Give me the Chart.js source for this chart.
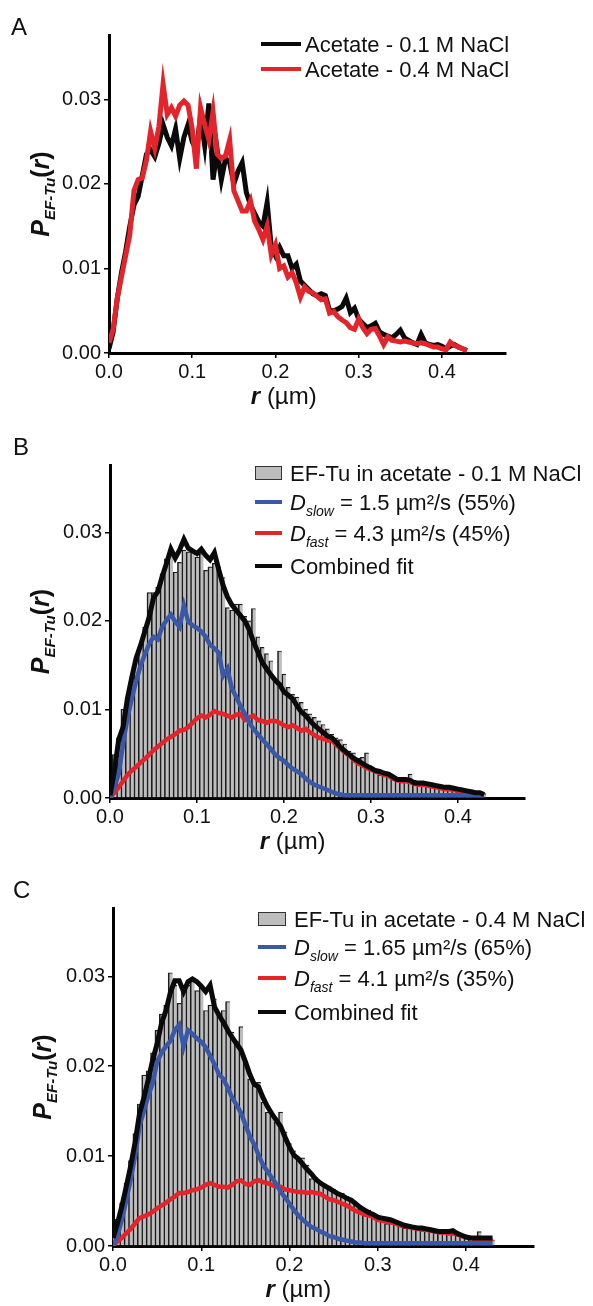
<!DOCTYPE html>
<html><head><meta charset="utf-8">
<script src="https://cdn.jsdelivr.net/npm/chart.js@4.4.0/dist/chart.umd.min.js"></script>
<style>
html,body{margin:0;padding:0;background:#fff;}
#wrap{position:relative;width:593px;height:1306px;background:#fff;}
canvas{position:absolute;left:0;}
</style></head><body>
<div id="wrap">
<canvas id="cA" width="593" height="420" style="top:0px"></canvas>
<canvas id="cB" width="593" height="440" style="top:420px"></canvas>
<canvas id="cC" width="593" height="446" style="top:860px"></canvas>
</div>
<script>
// ---------- data (r grid: bins of 0.005 µm from 0 to 0.43) ----------
const binStep = 0.005;
const xTickValues = [0, 0.1, 0.2, 0.3, 0.4];
const xTickLabels = ['0.0', '0.1', '0.2', '0.3', '0.4'];
const yTickValues = [0, 0.01, 0.02, 0.03];
const yTickLabels = ['0.00', '0.01', '0.02', '0.03'];

// Panel A
const aSaltLow = [0.0005,0.0025,0.0065,0.0095,0.0120,0.0150,0.0175,0.0185,0.0210,0.0235,
0.0240,0.0232,0.0248,0.0270,0.0255,0.0245,0.0265,0.0230,0.0255,0.0270,
0.0250,0.0240,0.0280,0.0245,0.0295,0.0205,0.0240,0.0205,0.0230,0.0225,
0.0200,0.0215,0.0225,0.0190,0.0175,0.0165,0.0155,0.0150,0.0178,0.0125,
0.0115,0.0125,0.0115,0.0115,0.0100,0.0105,0.0085,0.0080,0.0075,0.0070,
0.0068,0.0070,0.0068,0.0050,0.0050,0.0052,0.0055,0.0065,0.0048,0.0053,
0.0040,0.0035,0.0030,0.0032,0.0035,0.0025,0.0022,0.0020,0.0018,0.0022,
0.0027,0.0018,0.0015,0.0012,0.0010,0.0022,0.0012,0.0010,0.0009,0.0010,
0.0008,0.0005,0.0008,0.0010,0.0007,0.0005,0.0003];
const aSaltHigh = [0.0012,0.0028,0.0065,0.0090,0.0115,0.0140,0.0192,0.0205,0.0207,0.0228,
0.0262,0.0242,0.0268,0.0318,0.0282,0.0290,0.0280,0.0293,0.0298,0.0293,
0.0265,0.0218,0.0290,0.0270,0.0252,0.0285,0.0235,0.0230,0.0233,0.0252,
0.0192,0.0180,0.0168,0.0168,0.0180,0.0156,0.0146,0.0134,0.0150,0.0116,
0.0128,0.0100,0.0103,0.0090,0.0095,0.0083,0.0066,0.0078,0.0073,0.0071,
0.0067,0.0063,0.0064,0.0047,0.0049,0.0043,0.0039,0.0036,0.0030,0.0028,
0.0040,0.0030,0.0023,0.0028,0.0029,0.0020,0.0010,0.0019,0.0015,0.0014,
0.0013,0.0014,0.0013,0.0012,0.0011,0.0012,0.0011,0.0009,0.0007,0.0007,
0.0005,0.0004,0.0013,0.0009,0.0007,0.0005,0.0003];

// Panel B
const bHist = [0.0010,0.0049,0.0068,0.0100,0.0114,0.0132,0.0155,0.0170,0.0193,0.0232,
0.0232,0.0238,0.0253,0.0270,0.0276,0.0255,0.0266,0.0280,0.0278,0.0280,
0.0272,0.0276,0.0257,0.0261,0.0265,0.0261,0.0249,0.0215,0.0212,0.0219,
0.0219,0.0205,0.0200,0.0214,0.0182,0.0170,0.0163,0.0155,0.0132,0.0166,
0.0140,0.0125,0.0117,0.0114,0.0108,0.0100,0.0095,0.0091,0.0087,0.0083,
0.0078,0.0072,0.0068,0.0066,0.0061,0.0053,0.0051,0.0045,0.0046,0.0051,
0.0035,0.0031,0.0026,0.0028,0.0029,0.0025,0.0020,0.0019,0.0021,0.0027,
0.0020,0.0018,0.0017,0.0015,0.0014,0.0015,0.0013,0.0012,0.0011,0.0011,
0.0010,0.0008,0.0008,0.0007,0.0006,0.0007,0.0005];
const bSlow = [0,0.0012,0.0027,0.0061,0.0090,0.0112,0.0132,0.0149,0.0162,0.0174,
0.0182,0.0179,0.0193,0.0201,0.0207,0.0199,0.0193,0.0217,0.0199,0.0195,
0.0192,0.0188,0.0182,0.0173,0.0169,0.0164,0.0138,0.0146,0.0124,0.0114,
0.0104,0.0095,0.0085,0.0078,0.0072,0.0066,0.0061,0.0055,0.0049,0.0045,
0.0042,0.0037,0.0033,0.0030,0.0027,0.0022,0.0018,0.0015,0.0013,0.0011,
0.0009,0.0007,0.0005,0.0004,0.0003,0.0003,0.0003,0.0003,0.0003,0.0003,
0.0003,0.0003,0.0003,0.0003,0.0003,0.0003,0.0003,0.0003,0.0003,0.0003,
0.0003,0.0003,0.0003,0.0003,0.0003,0.0003,0.0003,0.0003,0.0003,0.0003,
0.0003,0.0003,0.0003,0.0003,0.0003,0.0003,0.0003];
const bFast = [0,0.0006,0.0012,0.0019,0.0026,0.0031,0.0035,0.0040,0.0044,0.0049,
0.0054,0.0058,0.0062,0.0066,0.0069,0.0072,0.0076,0.0077,0.0080,0.0085,
0.0090,0.0093,0.0091,0.0094,0.0098,0.0096,0.0095,0.0093,0.0091,0.0094,
0.0095,0.0088,0.0091,0.0093,0.0088,0.0087,0.0085,0.0087,0.0087,0.0085,
0.0082,0.0080,0.0082,0.0079,0.0076,0.0078,0.0074,0.0071,0.0068,0.0067,
0.0065,0.0065,0.0060,0.0056,0.0051,0.0048,0.0043,0.0039,0.0037,0.0034,
0.0032,0.0030,0.0028,0.0026,0.0025,0.0022,0.0020,0.0019,0.0019,0.0018,
0.0016,0.0015,0.0015,0.0014,0.0013,0.0012,0.0011,0.0010,0.0010,0.0009,
0.0008,0.0007,0.0006,0.0005,0.0005,0.0004,0.0003];
const bFit = [0.0003,0.0030,0.0066,0.0080,0.0112,0.0136,0.0158,0.0172,0.0188,0.0204,
0.0226,0.0233,0.0250,0.0265,0.0281,0.0271,0.0280,0.0292,0.0282,0.0279,
0.0276,0.0281,0.0274,0.0269,0.0277,0.0258,0.0240,0.0227,0.0218,0.0212,
0.0206,0.0200,0.0190,0.0176,0.0165,0.0153,0.0146,0.0139,0.0133,0.0128,
0.0120,0.0116,0.0112,0.0104,0.0097,0.0093,0.0087,0.0082,0.0078,0.0074,
0.0070,0.0068,0.0063,0.0057,0.0053,0.0049,0.0045,0.0042,0.0039,0.0036,
0.0034,0.0031,0.0030,0.0028,0.0027,0.0024,0.0021,0.0021,0.0021,0.0020,
0.0017,0.0017,0.0017,0.0016,0.0015,0.0014,0.0013,0.0012,0.0012,0.0011,
0.0010,0.0009,0.0008,0.0007,0.0006,0.0006,0.0004];

// Panel C
const cHist = [0.0010,0.0030,0.0048,0.0070,0.0095,0.0125,0.0158,0.0190,0.0195,0.0215,
0.0240,0.0258,0.0268,0.0304,0.0290,0.0270,0.0285,0.0290,0.0295,0.0284,
0.0290,0.0262,0.0268,0.0275,0.0258,0.0262,0.0272,0.0238,0.0228,0.0244,
0.0205,0.0186,0.0178,0.0182,0.0160,0.0149,0.0145,0.0138,0.0149,0.0127,
0.0114,0.0106,0.0096,0.0098,0.0090,0.0075,0.0076,0.0071,0.0069,0.0066,
0.0063,0.0058,0.0059,0.0055,0.0052,0.0046,0.0045,0.0041,0.0040,0.0034,
0.0031,0.0033,0.0025,0.0028,0.0026,0.0024,0.0020,0.0023,0.0020,0.0019,
0.0019,0.0017,0.0017,0.0016,0.0015,0.0014,0.0015,0.0013,0.0012,0.0011,
0.0010,0.0009,0.0010,0.0016,0.0009,0.0008,0.0007];
const cSlow = [0,0.0011,0.0029,0.0051,0.0074,0.0100,0.0133,0.0150,0.0167,0.0181,
0.0205,0.0215,0.0222,0.0228,0.0240,0.0246,0.0222,0.0240,0.0236,0.0231,
0.0227,0.0221,0.0212,0.0202,0.0191,0.0186,0.0176,0.0165,0.0157,0.0148,
0.0135,0.0122,0.0113,0.0101,0.0090,0.0083,0.0076,0.0069,0.0060,0.0054,
0.0047,0.0040,0.0034,0.0029,0.0025,0.0021,0.0019,0.0016,0.0014,0.0011,
0.0010,0.0008,0.0007,0.0006,0.0005,0.0004,0.0004,0.0003,0.0003,0.0003,
0.0003,0.0003,0.0003,0.0003,0.0003,0.0003,0.0003,0.0003,0.0003,0.0003,
0.0003,0.0003,0.0003,0.0003,0.0003,0.0003,0.0003,0.0003,0.0003,0.0003,
0.0003,0.0003,0.0003,0.0003,0.0003,0.0003,0.0003];
const cFast = [0,0.0005,0.0009,0.0014,0.0019,0.0025,0.0031,0.0033,0.0035,0.0038,
0.0042,0.0045,0.0048,0.0052,0.0055,0.0059,0.0059,0.0060,0.0062,0.0063,
0.0065,0.0068,0.0070,0.0068,0.0066,0.0066,0.0065,0.0068,0.0072,0.0073,
0.0069,0.0068,0.0072,0.0073,0.0071,0.0070,0.0068,0.0066,0.0066,0.0063,
0.0062,0.0061,0.0060,0.0060,0.0059,0.0060,0.0059,0.0058,0.0055,0.0052,
0.0051,0.0049,0.0047,0.0045,0.0042,0.0039,0.0037,0.0035,0.0034,0.0032,
0.0029,0.0028,0.0027,0.0026,0.0025,0.0023,0.0022,0.0021,0.0020,0.0019,
0.0018,0.0018,0.0017,0.0016,0.0015,0.0015,0.0014,0.0014,0.0013,0.0011,
0.0010,0.0009,0.0008,0.0008,0.0008,0.0007,0.0007];
const cFit = [0.0009,0.0025,0.0044,0.0066,0.0089,0.0115,0.0147,0.0165,0.0185,0.0207,
0.0225,0.0248,0.0262,0.0282,0.0295,0.0295,0.0283,0.0294,0.0297,0.0294,
0.0289,0.0283,0.0290,0.0266,0.0257,0.0249,0.0240,0.0232,0.0225,0.0218,
0.0205,0.0191,0.0180,0.0177,0.0165,0.0155,0.0147,0.0140,0.0133,0.0121,
0.0110,0.0101,0.0097,0.0091,0.0085,0.0080,0.0074,0.0070,0.0067,0.0064,
0.0061,0.0058,0.0056,0.0053,0.0051,0.0047,0.0043,0.0040,0.0037,0.0035,
0.0032,0.0031,0.0030,0.0029,0.0027,0.0025,0.0023,0.0022,0.0021,0.0020,
0.0020,0.0019,0.0018,0.0017,0.0016,0.0016,0.0016,0.0017,0.0014,0.0012,
0.0010,0.0009,0.0009,0.0009,0.0009,0.0009,0.0009];

const legendA = ['Acetate - 0.1 M NaCl', 'Acetate - 0.4 M NaCl'];
const legendB = ['EF-Tu in acetate - 0.1 M NaCl', ' = 1.5 \u00b5m\u00b2/s (55%)', ' = 4.3 \u00b5m\u00b2/s (45%)', 'Combined fit'];
const legendC = ['EF-Tu in acetate - 0.4 M NaCl', ' = 1.65 \u00b5m\u00b2/s (65%)', ' = 4.1 \u00b5m\u00b2/s (35%)', 'Combined fit'];

// ---------- styling ----------
const FF = '"Liberation Sans", Arial, Helvetica, sans-serif';
const RED = '#e3242b', BLUE = '#3a58a8', BLACK = '#0a0a0a', BAR = '#bdbdbd';
const TXT = '#111';

function toXY(arr) { return arr.map((v, i) => ({ x: Math.round(i * binStep * 1000) / 1000, y: v })); }

function drawParts(ctx, parts, x, y) {
  let cx = x;
  parts.forEach(p => {
    ctx.font = p.f;
    ctx.fillText(p.t, cx, y + (p.dy || 0));
    cx += ctx.measureText(p.t).width;
  });
  return cx - x;
}
function measureParts(ctx, parts) {
  let w = 0;
  parts.forEach(p => { ctx.font = p.f; w += ctx.measureText(p.t).width; });
  return w;
}

function makeOverlay(cfg) {
  return {
    id: 'overlay' + cfg.letter,
    afterDraw(chart) {
      const ctx = chart.ctx;
      const ca = chart.chartArea;
      ctx.save();
      ctx.fillStyle = TXT;
      ctx.textBaseline = 'alphabetic';
      ctx.textAlign = 'left';
      // panel letter
      ctx.font = '24px ' + FF;
      ctx.fillText(cfg.letter, cfg.letterX, cfg.letterY);
      // x title
      const xParts = [{ t: 'r', f: 'italic bold 24px ' + FF }, { t: ' (\u00b5m)', f: '24px ' + FF }];
      const xw = measureParts(ctx, xParts);
      const xc = chart.scales.x.getPixelForValue(0.21);
      drawParts(ctx, xParts, xc - xw / 2, ca.bottom + cfg.xTitleDy);
      // y title (rotated)
      const yParts = [
        { t: 'P', f: 'italic bold 25px ' + FF },
        { t: 'EF-Tu', f: 'italic bold 15px ' + FF, dy: 6 },
        { t: '(', f: 'bold 25px ' + FF },
        { t: 'r', f: 'italic bold 25px ' + FF },
        { t: ')', f: 'bold 25px ' + FF }
      ];
      const yw = measureParts(ctx, yParts);
      ctx.translate(cfg.yTitleX, (ca.top + ca.bottom) / 2);
      ctx.rotate(-Math.PI / 2);
      drawParts(ctx, yParts, -yw / 2, 9);
      ctx.setTransform(1, 0, 0, 1, 0, 0);
      // legend
      cfg.legend.rows.forEach(row => {
        if (row.kind === 'box') {
          ctx.fillStyle = BAR;
          ctx.fillRect(cfg.legend.x0, row.y - 7, cfg.legend.x1 - cfg.legend.x0, 14);
          ctx.strokeStyle = '#333';
          ctx.lineWidth = 1;
          ctx.strokeRect(cfg.legend.x0 + 0.5, row.y - 6.5, cfg.legend.x1 - cfg.legend.x0 - 1, 13);
        } else {
          ctx.strokeStyle = row.color;
          ctx.lineWidth = 4;
          ctx.lineCap = 'butt';
          ctx.beginPath();
          ctx.moveTo(cfg.legend.x0, row.y);
          ctx.lineTo(cfg.legend.x1, row.y);
          ctx.stroke();
        }
        ctx.fillStyle = TXT;
        drawParts(ctx, row.parts, cfg.legend.tx, row.y + 8);
      });
      ctx.restore();
    }
  };
}

function scalesFor(cfg) {
  const tickFont = { family: FF, size: 20 };
  return {
    x: {
      type: 'linear', min: 0, max: 0.477, offset: false,
      afterBuildTicks: s => { s.ticks = xTickValues.map(v => ({ value: v })); },
      afterFit: s => { s.height = cfg.xAxisH; },
      ticks: { font: tickFont, color: TXT, padding: 2, maxRotation: 0, autoSkip: false,
        callback: (v, i) => xTickLabels[i] },
      grid: { display: true, drawOnChartArea: false, drawTicks: true, tickLength: 5, color: '#000', lineWidth: 1.5, offset: false },
      border: { display: true, color: '#000', width: 3 }
    },
    y: {
      type: 'linear', min: 0, max: 0.0376,
      afterBuildTicks: s => { s.ticks = yTickValues.map(v => ({ value: v })); },
      afterFit: s => { s.width = cfg.yAxisW; },
      ticks: { font: tickFont, color: TXT, padding: 3, autoSkip: false,
        callback: (v, i) => yTickLabels[i] },
      grid: { display: true, drawOnChartArea: false, drawTicks: true, tickLength: 5, color: '#000', lineWidth: 1.5 },
      border: { display: true, color: '#000', width: 3 }
    }
  };
}

function lineDs(label, arr, color, order, width) {
  return { type: 'line', label, data: toXY(arr), borderColor: color, backgroundColor: color,
    borderWidth: width || 4, pointRadius: 0, fill: false, tension: 0, order, borderJoinStyle: 'miter' };
}

function build(canvasId, cfg, type, datasets) {
  new Chart(document.getElementById(canvasId), {
    type,
    data: { datasets },
    options: {
      responsive: false, animation: false, devicePixelRatio: 1,
      layout: { padding: { left: 0, top: cfg.top, right: cfg.right, bottom: 0 } },
      plugins: { legend: { display: false }, tooltip: { enabled: false } },
      scales: scalesFor(cfg)
    },
    plugins: [makeOverlay(cfg)]
  });
}

// ---------- Panel A ----------
build('cA', {
  letter: 'A', letterX: 11, letterY: 35, top: 35, right: 593 - 506, yAxisW: 109, xAxisH: 420 - 353,
  xTitleDy: 51, yTitleX: 40,
  legend: { x0: 261, x1: 301, tx: 305, rows: [
    { kind: 'line', color: BLACK, y: 44, parts: [{ t: legendA[0], f: '22px ' + FF }] },
    { kind: 'line', color: RED, y: 69, parts: [{ t: legendA[1], f: '22px ' + FF }] }
  ] }
}, 'line', [
  lineDs('Acetate - 0.4 M NaCl', aSaltHigh, RED, 1, 5),
  lineDs('Acetate - 0.1 M NaCl', aSaltLow, BLACK, 2, 5)
]);

function histDs(label, arr) {
  return { type: 'bar', label, data: toXY(arr), backgroundColor: BAR, borderColor: '#1c1c1c',
    borderWidth: { top: 1.2, left: 1.6, right: 0, bottom: 0 }, borderSkipped: false,
    barPercentage: 1, categoryPercentage: 1, order: 4 };
}

// ---------- Panel B ----------
build('cB', {
  letter: 'B', letterX: 13, letterY: 35, top: 45, right: 593 - 525, yAxisW: 110, xAxisH: 440 - 378,
  xTitleDy: 51, yTitleX: 40,
  legend: { x0: 255, x1: 282, tx: 290, rows: [
    { kind: 'box', y: 53, parts: [{ t: legendB[0], f: '22px ' + FF }] },
    { kind: 'line', color: BLUE, y: 82, parts: [{ t: 'D', f: 'italic 22px ' + FF }, { t: 'slow', f: 'italic 14px ' + FF, dy: 6 }, { t: legendB[1], f: '22px ' + FF }] },
    { kind: 'line', color: RED, y: 113, parts: [{ t: 'D', f: 'italic 22px ' + FF }, { t: 'fast', f: 'italic 14px ' + FF, dy: 6 }, { t: legendB[2], f: '22px ' + FF }] },
    { kind: 'line', color: BLACK, y: 146, parts: [{ t: legendB[3], f: '22px ' + FF }] }
  ] }
}, 'bar', [
  histDs('EF-Tu in acetate - 0.1 M NaCl', bHist),
  lineDs('D slow', bSlow, BLUE, 2, 4.5),
  lineDs('D fast', bFast, RED, 3, 4.5),
  lineDs('Combined fit', bFit, BLACK, 1, 5)
]);

// ---------- Panel C ----------
build('cC', {
  letter: 'C', letterX: 13, letterY: 38, top: 48, right: 593 - 534, yAxisW: 113, xAxisH: 446 - 386,
  xTitleDy: 51, yTitleX: 42,
  legend: { x0: 258, x1: 286, tx: 294, rows: [
    { kind: 'box', y: 59, parts: [{ t: legendC[0], f: '22px ' + FF }] },
    { kind: 'line', color: BLUE, y: 87, parts: [{ t: 'D', f: 'italic 22px ' + FF }, { t: 'slow', f: 'italic 14px ' + FF, dy: 6 }, { t: legendC[1], f: '22px ' + FF }] },
    { kind: 'line', color: RED, y: 118, parts: [{ t: 'D', f: 'italic 22px ' + FF }, { t: 'fast', f: 'italic 14px ' + FF, dy: 6 }, { t: legendC[2], f: '22px ' + FF }] },
    { kind: 'line', color: BLACK, y: 152, parts: [{ t: legendC[3], f: '22px ' + FF }] }
  ] }
}, 'bar', [
  histDs('EF-Tu in acetate - 0.4 M NaCl', cHist),
  lineDs('D slow', cSlow, BLUE, 2, 4.5),
  lineDs('D fast', cFast, RED, 3, 4.5),
  lineDs('Combined fit', cFit, BLACK, 1, 5)
]);
</script>
</body></html>
